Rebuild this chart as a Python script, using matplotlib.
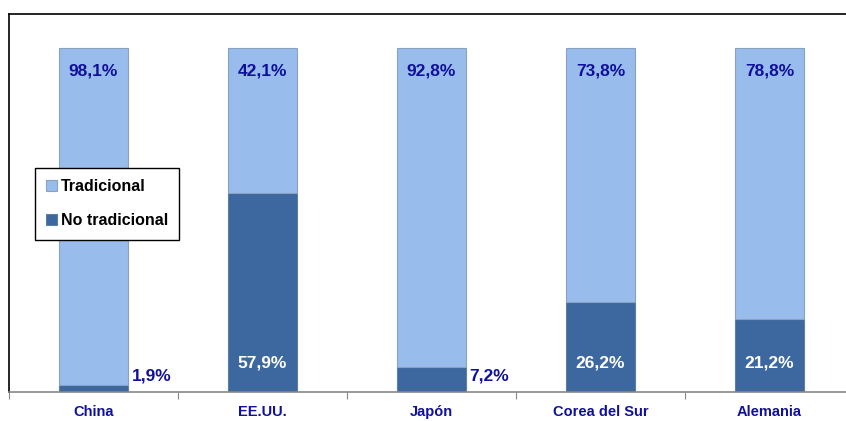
import numpy as np
import matplotlib.pyplot as plt

countries = ['China', 'EE.UU.', 'Japón', 'Corea del Sur', 'Alemania']
tradicional = [98.1, 42.1, 92.8, 73.8, 78.8]
no_tradicional = [1.9, 57.9, 7.2, 26.2, 21.2]

light = '#98bdec'
dark = '#3c679f'
navy = '#10109a'

fig = plt.figure(figsize=(8.46, 4.21), dpi=100)
W, H = 846, 421
ax = fig.add_axes([9 / W, (H - 392) / H, 845 / W, (392 - 14) / H])

x = np.arange(len(countries))
width = 0.41
ax.bar(x, no_tradicional, width, color=dark, edgecolor='#5f7f9f', linewidth=0.8,
       label='No tradicional')
ax.bar(x, tradicional, width, bottom=no_tradicional, color=light, edgecolor='#8aa2c0',
       linewidth=0.8, label='Tradicional')

ax.set_xlim(-0.5, len(countries) - 0.5)
ax.set_ylim(0, 100 * 378 / 344)

lab_font = ['Liberation Sans', 'DejaVu Sans']
for i in range(len(countries)):
    ax.text(x[i], 93.3, f'{tradicional[i]:.1f}%'.replace('.', ','), ha='center', va='center',
            color=navy, fontsize=12.5, fontweight='bold', family=lab_font)
    val = f'{no_tradicional[i]:.1f}%'.replace('.', ',')
    if no_tradicional[i] < 10:
        ax.text(x[i] + width / 2 + 0.02, 4.6, val, ha='left', va='center',
                color=navy, fontsize=12.5, fontweight='bold', family=lab_font)
    else:
        ax.text(x[i], 8.3, val, ha='center', va='center',
                color='white', fontsize=12.5, fontweight='bold', family=lab_font)

ax.set_yticks([])
ax.set_xticks(np.arange(len(countries) + 1) - 0.5)
ax.set_xticklabels([])
ax.set_xticks(x, minor=True)
ax.set_xticklabels(countries, minor=True, color=navy, fontweight='bold', fontsize=10.5,
                   family=['Liberation Sans Narrow', 'Liberation Sans'])
ax.tick_params(axis='x', which='major', direction='out', length=5, color='#888888')
ax.tick_params(axis='x', which='minor', length=0, pad=9.5)

ax.spines['right'].set_visible(False)
ax.spines['bottom'].set_color('#888888')
ax.spines['bottom'].set_linewidth(1.2)
ax.spines['left'].set_linewidth(1.2)
ax.spines['top'].set_linewidth(1.2)

handles, labels = ax.get_legend_handles_labels()
leg = ax.legend(handles[::-1], labels[::-1], loc='upper left',
                bbox_to_anchor=(26 / 845, (392 - 168) / 378),
                frameon=True, fancybox=False, framealpha=1, facecolor='white',
                edgecolor='black', handlelength=0.7, handleheight=0.7,
                handletextpad=0.2, labelspacing=1.2, borderpad=0.7, borderaxespad=0,
                prop={'family': ['Liberation Sans Narrow', 'Liberation Sans'], 'weight': 'bold', 'size': 11.5})
leg.get_frame().set_linewidth(1.0)

fig.savefig('out.png', dpi=100)
